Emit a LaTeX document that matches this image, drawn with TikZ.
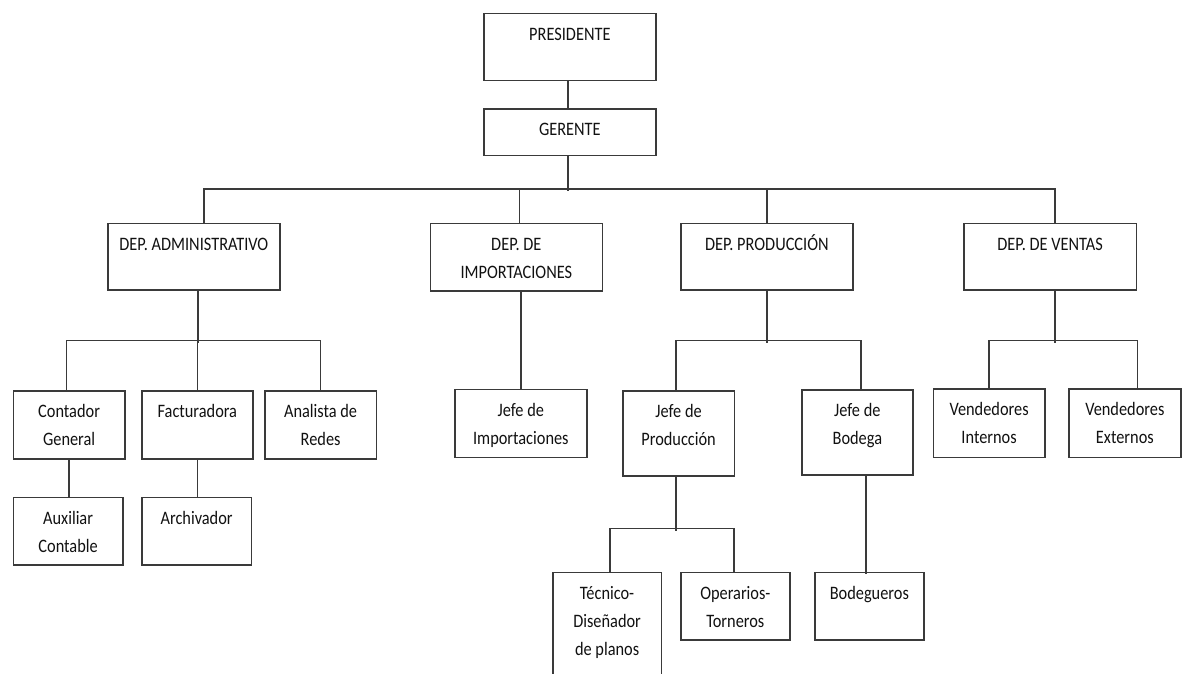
\documentclass[tikz,border=0pt]{standalone}
\usepackage{fontspec}
\setmainfont{Carlito}[FakeStretch=0.86]
\definecolor{LineGray}{HTML}{3A3A3A}
\definecolor{TextBlack}{HTML}{111111}

\begin{document}
\begin{tikzpicture}[x=1pt, y=-1pt,
    orgbox/.style={draw=LineGray, line width=1.7pt, inner sep=0pt, anchor=north west},
    orgtext/.style={anchor=north, align=center, inner sep=0pt, yshift=-8pt, text=TextBlack,
        font=\fontsize{19}{28}\selectfont},
    link/.style={draw=LineGray, line width=1.7pt}]
    \useasboundingbox (0,0) rectangle (1187,673);

    % Top level
    \node[orgbox, minimum width=172pt, minimum height=67pt, label={[orgtext]north:\strut PRESIDENTE}] (pres) at (483,12.5) {};
    \node[orgbox, minimum width=172pt, minimum height=46.5pt, label={[orgtext]north:\strut GERENTE}] (ger) at (483,108) {};

    % Departments level
    \node[orgbox, minimum width=172pt, minimum height=66.5pt, label={[orgtext]north:\strut DEP. ADMINISTRATIVO}] (adm) at (107,222.5) {};
    \node[orgbox, minimum width=172pt, minimum height=67.5pt, label={[orgtext]north:\strut DEP. DE\\IMPORTACIONES}] (imp) at (429.5,222.5) {};
    \node[orgbox, minimum width=172pt, minimum height=66.5pt, label={[orgtext]north:\strut DEP. PRODUCCIÓN}] (pro) at (680,222.5) {};
    \node[orgbox, minimum width=172.5pt, minimum height=66.5pt, label={[orgtext]north:\strut DEP. DE VENTAS}] (ven) at (963,222.5) {};

    % Staff level
    \node[orgbox, minimum width=111.5pt, minimum height=68pt, label={[orgtext]north:\strut Contador\\General}] (con) at (12.5,390) {};
    \node[orgbox, minimum width=111pt, minimum height=68pt, label={[orgtext]north:\strut Facturadora}] (fac) at (141,390) {};
    \node[orgbox, minimum width=111.5pt, minimum height=68pt, label={[orgtext]north:\strut Analista de\\Redes}] (ana) at (264,390) {};
    \node[orgbox, minimum width=132pt, minimum height=68pt, label={[orgtext]north:\strut Jefe de\\Importaciones}] (jimp) at (454,388.5) {};
    \node[orgbox, minimum width=111.5pt, minimum height=85pt, label={[orgtext]north:\strut Jefe de\\Producción}] (jpr) at (622,390) {};
    \node[orgbox, minimum width=111pt, minimum height=85pt, label={[orgtext]north:\strut Jefe de\\Bodega}] (jbo) at (801,389) {};
    \node[orgbox, minimum width=111.5pt, minimum height=68.5pt, label={[orgtext]north:\strut Vendedores\\Internos}] (vin) at (932.5,388) {};
    \node[orgbox, minimum width=112pt, minimum height=68.5pt, label={[orgtext]north:\strut Vendedores\\Externos}] (vex) at (1068,388) {};

    % Assistants level
    \node[orgbox, minimum width=109.5pt, minimum height=67.5pt, label={[orgtext]north:\strut Auxiliar\\Contable}] (aux) at (12.5,496.5) {};
    \node[orgbox, minimum width=109.5pt, minimum height=67.5pt, label={[orgtext]north:\strut Archivador}] (arc) at (141,496.5) {};
    \node[orgbox, minimum width=108.5pt, minimum height=125pt, label={[orgtext]north:\strut Técnico-\\Diseñador\\de planos}] (tec) at (552,571.5) {};
    \node[orgbox, minimum width=109pt, minimum height=67.5pt, label={[orgtext]north:\strut Operarios-\\Torneros}] (ope) at (680,571.5) {};
    \node[orgbox, minimum width=109pt, minimum height=67.5pt, label={[orgtext]north:\strut Bodegueros}] (bod) at (814,571.5) {};

    % Lines
    \draw[link] ([xshift=-2pt]pres.south) -- ([xshift=-2pt]ger.north);
    \draw[link] ([xshift=-2pt]ger.south) -- ++(0,34.5);
    \draw[link] ([xshift=10pt]adm.north) -- ++(0,-33.5) -| ([xshift=5pt]ven.north);
    \draw[link] ([xshift=3pt]imp.north) -- ++(0,-33.5);
    \draw[link] (pro.north) -- ++(0,-33.5);

    \draw[link] ([xshift=4pt]adm.south) -- ++(0,52);
    \draw[link] ([xshift=-2.5pt]con.north) -- ++(0,-49.5) -| (ana.north);
    \draw[link] (fac.north) -- ++(0,-49.5);
    \draw[link] (con.south) -- (con.south |- aux.north);
    \draw[link] (fac.south) -- (fac.south |- arc.north);

    \draw[link] (jimp.north) -- (jimp.north |- imp.south);

    \draw[link] (pro.south) -- ++(0,52);
    \draw[link] ([xshift=-2.5pt]jpr.north) -- ++(0,-49.5) -| ([xshift=3.5pt]jbo.north);
    \draw[link] ([xshift=-2.5pt]jpr.south) -- ++(0,54);
    \draw[link] ([xshift=3pt]tec.north) -- ++(0,-43) -| ([xshift=-1.5pt]ope.north);
    \draw[link] ([xshift=8.5pt]jbo.south) -- ++(0,98);

    \draw[link] ([xshift=5pt]ven.south) -- ++(0,52);
    \draw[link] (vin.north) -- ++(0,-47.5) -| ([xshift=12.5pt]vex.north);
\end{tikzpicture}
\end{document}
